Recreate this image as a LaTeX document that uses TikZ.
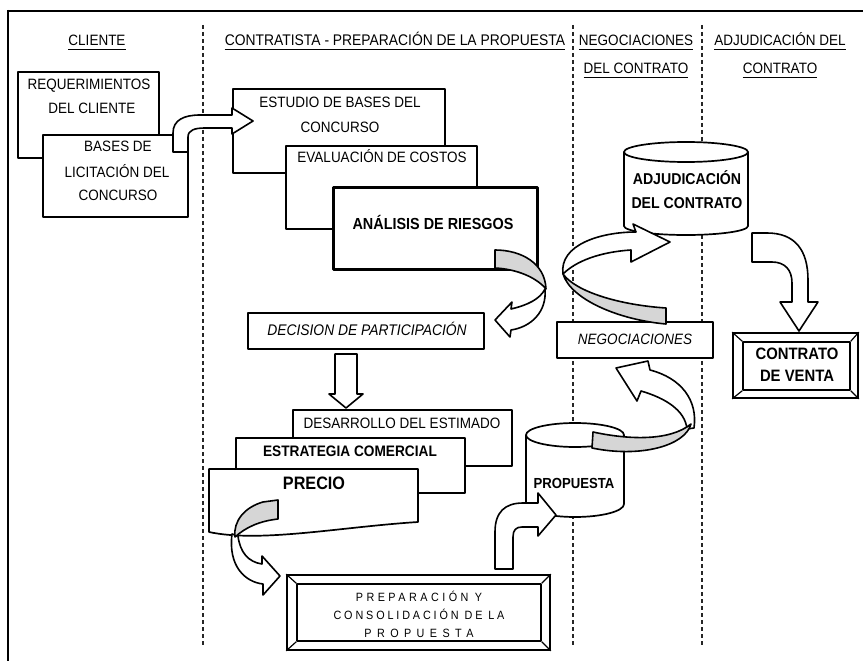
\documentclass[tikz,border=0pt]{standalone}
\usepackage{fontspec}
\setmainfont{Liberation Sans}[FakeStretch=0.9]
\begin{document}
\begin{tikzpicture}[x=1pt,y=-1pt,line join=round,
  box/.style={draw,line width=1.7pt,fill=white,inner sep=0pt},
  sz/.code 2 args={\pgfmathsetmacro\mytexth{0.716*#1}%
    \tikzset{inner sep=0pt,text depth=0pt,text height=\mytexth pt,font=\fontsize{#1}{#1}\selectfont#2}},
  t/.style={sz={15}{}},
  ti/.style={sz={15}{\itshape}},
  tb/.style={sz={#1}{\bfseries}},
  tsp/.style={sz={12}{\addfontfeature{LetterSpace=#1}}},
  sep/.style={line width=1.4pt,dash pattern=on 4pt off 3pt,black!85},
  blk/.style={draw,line width=1.6pt,fill=white},
  band/.style={draw,line width=1.6pt,fill=black!16},
  uline/.style={line width=1.3pt},
]
\useasboundingbox (0,0) rectangle (863,661);

% outer frame
\draw[line width=2.8pt] (863,11) -- (8,11);
\draw[line width=2pt] (8,10) -- (8,661);

% column separators
\coordinate (s1t) at (203,25); \coordinate (s1b) at (203,645);
\coordinate (s2t) at (573,25); \coordinate (s2b) at (573,645);
\coordinate (s3t) at (702,25); \coordinate (s3b) at (702,645);
\draw[sep] (s1t) -- (s1b);
\draw[sep] (s2t) -- (s2b);
\draw[sep] (s3t) -- (s3b);

% column headings
\node[t] (hcli) at (97,40) {CLIENTE};
\node[sz={15.4}{}] (hcon) at (395,40) {CONTRATISTA - PREPARACIÓN DE LA PROPUESTA};
\node[t] (hneg1) at (636,40) {NEGOCIACIONES};
\node[t] (hneg2) at (636,68) {DEL CONTRATO};
\node[t] (hadj1) at (780,40) {ADJUDICACIÓN DEL};
\node[t] (hadj2) at (780,68) {CONTRATO};
\foreach \h in {hcli,hcon,hneg1,hneg2,hadj1,hadj2}
  \draw[uline] ([yshift=-4pt]\h.south west) -- ([yshift=-4pt]\h.south east);

% client documents
\node[box,minimum width=141,minimum height=86] (req) at (88.5,115) {};
\node[t] (req1) at (89,84) {REQUERIMIENTOS};
\node[t] (req2) at (92,108) {DEL CLIENTE};
\node[box,minimum width=145,minimum height=82] (bas) at (115.5,176) {};
\node[t] (bas1) at (118,146) {BASES DE};
\node[t] (bas2) at (117,172) {LICITACIÓN DEL};
\node[t] (bas3) at (118,195) {CONCURSO};

% contractor documents
\node[box,minimum width=212,minimum height=84] (est) at (339,131) {};
\node[t] (est1) at (340,102) {ESTUDIO DE BASES DEL};
\node[t] (est2) at (340,127) {CONCURSO};

% bent arrow bases -> estudio
\draw[blk] (173,152) -- (173,133) .. controls (173,120) and (184,115) .. (200,115) -- (232,115)
  -- (232,108) -- (253,121) -- (232,134) -- (232,128) -- (205,128)
  .. controls (195,128) and (188,130) .. (188,137) -- (188,152) -- cycle;

\node[box,minimum width=191,minimum height=83] (eva) at (381.5,187.5) {};
\node[t] (eva1) at (382,157) {EVALUACIÓN DE COSTOS};
\node[box,line width=3pt,minimum width=204,minimum height=82] (rie) at (435,228) {};
\node[tb=16] (rie1) at (433,224) {ANÁLISIS DE RIESGOS};

% twisted arrow riesgos -> decision
\draw[blk] (545,289) .. controls (547,312) and (531,327) .. (511,330) -- (510,337) -- (495,320)
  -- (512,302) -- (511,309) .. controls (528,305) and (540,299) .. (545,289) -- cycle;
\draw[band] (495,250) .. controls (521,250) and (545,263) .. (546,289)
  .. controls (536,277) and (516,269) .. (495,268) -- cycle;

\node[box,minimum width=236,minimum height=36] (dec) at (366,331) {};
\node[sz={15.4}{\itshape}] (dec1) at (367,330) {DECISION DE PARTICIPACIÓN};

% down arrow decision -> estimate
\draw[blk] (335,354) -- (357,354) -- (357,394) -- (363,394) -- (346,408) -- (329,394) -- (335,394) -- cycle;

\node[box,minimum width=219,minimum height=56] (des) at (402.5,438) {};
\node[t] (des1) at (402,423) {DESARROLLO DEL ESTIMADO};
\node[box,minimum width=229,minimum height=55] (estr) at (350.5,465.5) {};
\node[tb=15.2] (estr1) at (350,451) {ESTRATEGIA COMERCIAL};

% price document
\draw[blk,line width=1.7pt] (209,469) -- (418,469) -- (418,522)
  .. controls (340,527) and (260,543) .. (209,532) -- cycle;
\node[tb=18] (pre1) at (314,483) {PRECIO};

% twisted arrow precio -> preparacion
\draw[blk] (232,534) .. controls (228,566) and (245,582) .. (263,584) -- (263,595) -- (280,576)
  -- (262,556) -- (262,564) .. controls (248,562) and (240,552) .. (238,536) -- cycle;
\draw[band] (263,502) -- (278,500) -- (278,519) .. controls (260,521) and (246,527) .. (235,537)
  .. controls (233,521) and (245,507) .. (263,502) -- cycle;

% bevelled box: preparation
\node[box,minimum width=263,minimum height=75] (prep) at (418.5,612.5) {};
\node[box,line width=1.5pt,minimum width=244,minimum height=57] (prepi) at (419,612.5) {};
\foreach \c in {north west,north east,south west,south east}
  \draw[line width=1.2pt] (prep.\c) -- (prepi.\c);
\node[tsp=29] (prep1) at (419,597) {PREPARACIÓN Y};
\node[tsp=24] (prep2) at (419,615) {CONSOLIDACIÓN DE LA};
\node[tsp=45] (prep3) at (419,633) {PROPUESTA};

% proposal cylinder
\draw[blk,line width=1.7pt] (526,435) -- (526,504) arc[start angle=180,end angle=0,x radius=49,y radius=13]
  -- (624,435) arc[start angle=0,end angle=-180,x radius=49,y radius=12] -- cycle;
\draw[line width=1.7pt] (526,435) arc[start angle=180,end angle=0,x radius=49,y radius=12];
\node[tb=14.6] (prop1) at (574,483) {PROPUESTA};

% bent arrow preparacion -> propuesta
\draw[blk] (495,569) -- (495,532) .. controls (495,512) and (505,503) .. (523,503) -- (538,503)
  -- (538,493) -- (556,515) -- (538,536) -- (538,527) -- (522,527)
  .. controls (516,527) and (513,530) .. (513,537) -- (513,569) -- cycle;

% twisted arrow propuesta -> negociaciones
\draw[blk] (694,428) .. controls (698,400) and (681,378) .. (650,370) -- (648,361) -- (616,368)
  -- (637,401) -- (641,391) .. controls (665,398) and (685,410) .. (687,429) -- cycle;
\draw[band] (593,432) .. controls (630,440) and (670,441) .. (691,424)
  .. controls (685,446) and (640,458) .. (592,448) -- cycle;

\node[box,minimum width=156,minimum height=36] (neg) at (635,340) {};
\node[ti] (neg1) at (635,339) {NEGOCIACIONES};

% award cylinder
\draw[blk,line width=1.7pt] (624,152) -- (624,226) arc[start angle=180,end angle=0,x radius=62,y radius=9]
  -- (748,152) arc[start angle=0,end angle=-180,x radius=62,y radius=10] -- cycle;
\draw[line width=1.7pt] (624,152) arc[start angle=180,end angle=0,x radius=62,y radius=10];
\node[tb=15.7] (adj1) at (687,179) {ADJUDICACIÓN};
\node[tb=15.7] (adj2) at (687,203) {DEL CONTRATO};

% twisted arrow negociaciones -> adjudicacion
\draw[blk] (563,274) .. controls (559,245) and (600,232) .. (636,232) -- (633,224) -- (670,242)
  -- (631,262) -- (631,250) .. controls (600,252) and (576,261) .. (563,274) -- cycle;
\draw[band] (666,308) .. controls (620,305) and (576,292) .. (563,274)
  .. controls (571,300) and (620,320) .. (666,324) -- cycle;

% bent arrow adjudicacion -> contrato
\draw[blk] (752,233) -- (767,233) .. controls (795,233) and (808,250) .. (808,280) -- (808,302)
  -- (818,302) -- (799,331) -- (780,302) -- (792,302) -- (792,283)
  .. controls (792,270) and (785,262) .. (772,262) -- (752,262) -- cycle;

% bevelled box: sale contract
\node[box,minimum width=125,minimum height=65] (con) at (795.5,365.5) {};
\node[box,line width=1.5pt,minimum width=107,minimum height=48] (coni) at (796.5,366) {};
\foreach \c in {north west,north east,south west,south east}
  \draw[line width=1.2pt] (con.\c) -- (coni.\c);
\node[tb=16.5] (con1) at (797,354) {CONTRATO};
\node[tb=16.5] (con2) at (797,376) {DE VENTA};

\end{tikzpicture}
\end{document}
